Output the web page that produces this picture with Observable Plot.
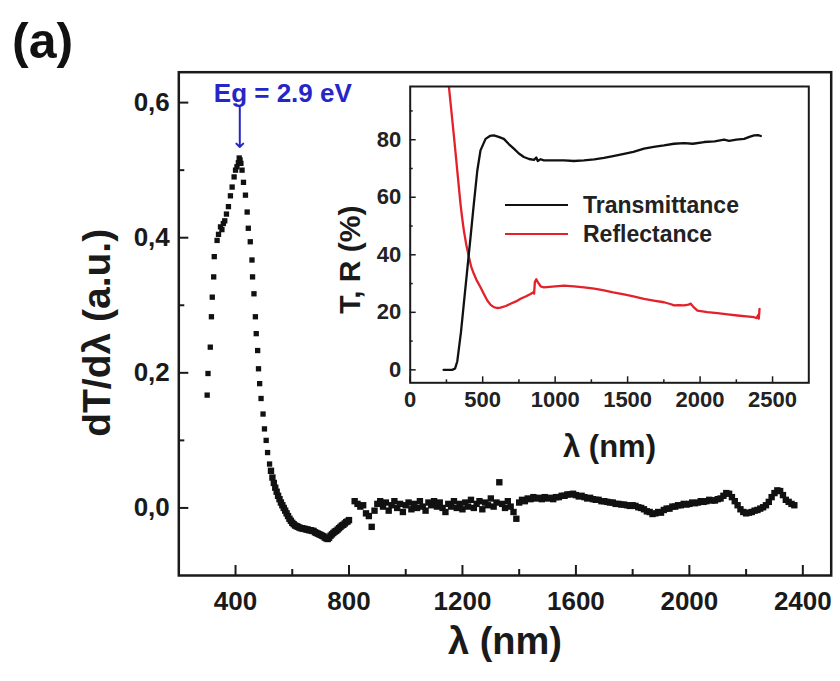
<!DOCTYPE html>
<html><head><meta charset="utf-8">
<script src="https://cdn.jsdelivr.net/npm/d3@7"></script>
<script src="https://cdn.jsdelivr.net/npm/@observablehq/plot@0.6"></script>
<style>
body{margin:0;background:#fff;}
#wrap{position:relative;width:840px;height:681px;overflow:hidden;background:#fff;font-family:"Liberation Sans",Arial,sans-serif;font-weight:bold;color:#111;}
#wrap svg{position:absolute;left:0;top:0;}
.lab{position:absolute;white-space:nowrap;}
</style></head><body><div id="wrap"></div>
<script>
// ---- main panel: dT/dλ scatter (nm, a.u.) ----
const edgeRise = [[300,0.167],[303,0.199],[311,0.238],[315,0.283],[318,0.312],[323,0.342],[325,0.372],[335,0.396],[340,0.405],[347,0.416],[352,0.412],[357,0.421],[362,0.425],[368,0.435],[375,0.446],[382,0.462],[388,0.475],[395,0.490],[400,0.500],[405,0.505],[410,0.511],[413,0.518],[416,0.515],[419,0.510]];
const edgeFall = [[423,0.500],[428,0.482],[435,0.463],[441,0.438],[445,0.414],[452,0.394],[458,0.367],[460,0.342],[465,0.317],[470,0.283],[473,0.258],[478,0.233],[481,0.206],[485,0.184],[490,0.162],[497,0.139],[502,0.117],[508,0.100],[513,0.082],[520,0.065]];
// 525 … 800 nm, every 5 nm
const dipValues = [0.055,0.045,0.037,0.030,0.024,0.018,0.013,0.008,0.004,0.000,
 -0.004,-0.008,-0.012,-0.016,-0.019,-0.022,-0.024,-0.026,-0.027,-0.028,
 -0.029,-0.030,-0.030,-0.031,-0.031,-0.032,-0.032,-0.033,-0.033,-0.034,
 -0.034,-0.036,-0.037,-0.038,-0.039,-0.040,-0.041,-0.042,-0.044,-0.045,
 -0.046,-0.044,-0.041,-0.039,-0.037,-0.035,-0.034,-0.032,-0.030,-0.028,
 -0.026,-0.025,-0.023,-0.021,-0.020,-0.018];
// 820 … 2370 nm, every 10 nm
const nirValues = [0.010,0.006,0.002,0.004,-0.008,-0.012,-0.028,-0.004,0.006,0.010,
 0.002,0.008,-0.004,0.004,0.010,0.000,0.006,-0.006,0.004,0.008,
 -0.002,0.006,0.000,0.010,0.002,-0.004,0.008,0.004,0.010,0.002,
 0.008,0.000,-0.006,0.006,0.002,0.010,0.000,0.006,-0.002,0.008,
 0.002,0.012,0.000,0.006,0.010,-0.002,0.008,0.004,0.014,0.002,
 0.008,0.038,0.006,0.000,0.010,0.002,-0.006,-0.016,
 0.008,0.012,0.010,0.014,0.013,0.016,0.014,0.015,0.013,0.016,
 0.014,0.015,0.013,0.016,0.016,0.018,0.018,0.020,0.020,0.021,
 0.019,0.017,0.018,0.016,0.014,0.015,0.013,0.012,0.012,0.010,
 0.010,0.009,0.008,0.008,0.006,0.006,0.005,0.005,0.004,0.003,
 0.004,0.003,0.001,0.000,-0.002,-0.005,-0.006,-0.009,-0.008,-0.006,
 -0.007,-0.003,-0.001,-0.001,0.002,0.002,0.004,0.004,0.006,0.005,
 0.006,0.008,0.007,0.008,0.010,0.009,0.010,0.012,0.011,0.011,
 0.013,0.014,0.018,0.022,0.021,0.016,0.010,0.004,-0.002,-0.006,
 -0.008,-0.007,-0.006,-0.004,-0.003,-0.001,0.001,0.004,0.009,0.016,
 0.022,0.026,0.025,0.019,0.012,0.009,0.006,0.004];
const gapNote = [{nm: 415, value: 0.515, text: "Eg = 2.9 eV"}];
const mainXMajor = [400,800,1200,1600,2000,2400];
const mainXMinor = [600,1000,1400,1800,2200];
const mainYMajor = [0,0.2,0.4,0.6];
const mainYMinor = [0.1,0.3,0.5];

// ---- inset: T and R (%) ----
const transmittance = [[230,0],[260,0],[290,0],[310,0.5],[325,3],[340,9],[350,13],[360,18],[370,23],[393,34.5],[416,46],[439,57.7],[463,69.3],[485,76.3],[520,80.3],[550,81.3],[577,81.5],[610,81],[646,80.3],[680,78.5],[715,76.9],[750,75.2],[784,74],[820,73.3],[854,73],[870,73.8],[880,72.6],[900,73.2],[922,72.8],[1000,72.8],[1061,72.8],[1130,72.6],[1199,72.8],[1270,73.2],[1337,73.7],[1400,74.3],[1475,75.1],[1540,75.8],[1613,76.9],[1680,77.5],[1751,78],[1820,78.6],[1889,78.8],[1950,78.6],[2028,79.2],[2100,79.4],[2166,80],[2200,79.6],[2250,80],[2304,80.3],[2340,81],[2373,81.5],[2400,81.6],[2419,81.3]];
const reflectance = [[255,105],[267,98.5],[280,92],[292,86],[305,79.5],[318,72.8],[330,66.5],[347,57.7],[358,53],[370,48.5],[387,43.5],[405,39.2],[420,36],[439,33.4],[460,31],[485,28.7],[510,26.2],[532,24.1],[555,22.6],[577,21.8],[600,21.5],[623,21.6],[660,22.2],[692,23],[730,23.8],[761,24.7],[800,25.6],[830,26.4],[850,27],[855,26.5],[860,30.5],[870,31.5],[880,30.5],[890,29.8],[900,29],[922,28.7],[1000,29],[1061,29.3],[1130,29],[1199,28.7],[1270,28.2],[1337,27.6],[1400,26.9],[1475,26.2],[1540,25.5],[1613,24.7],[1680,24.1],[1751,23.5],[1800,22.8],[1820,22.4],[1850,22.5],[1889,22.4],[1920,22.7],[1936,23],[1955,21.8],[1982,20.6],[2050,20.1],[2120,19.7],[2190,19.3],[2258,18.9],[2320,18.6],[2373,18.3],[2390,18],[2400,19],[2405,17.8],[2410,21.2]];
const insetXMajor = [0,500,1000,1500,2000,2500];
const insetXMinor = [250,750,1250,1750,2250];
const insetYMajor = [0,20,40,60,80];
const insetYMinor = [10,30,50,70,90];
const legendItems = [{name: "Transmittance", color: "#111"}, {name: "Reflectance", color: "#e4202a"}];

// ---- build ----
const W = 840, H = 681;
const INK = "#1a1a1a", BLUE = "#2626c8";
const font = '"Liberation Sans", Arial, sans-serif';
const wrap = document.getElementById("wrap");

const edgePts = [...edgeRise, ...edgeFall];
const densePts = [
  ...dipValues.map((v, i) => [525 + 5 * i, v]),
  ...nirValues.map((v, i) => [820 + 10 * i, v])
];
const M = {top: 71.7, right: 9.3, bottom: 106, left: 178.3};
const pw = W - M.left - M.right, ph = H - M.top - M.bottom;
const comma = d => d.toFixed(1).replace(".", ",");

const main = Plot.plot({
  width: W, height: H,
  marginTop: M.top, marginRight: M.right, marginBottom: M.bottom, marginLeft: M.left,
  x: {domain: [200, 2500], axis: null},
  y: {domain: [-0.1, 0.645], axis: null},
  style: {fontFamily: font, fontWeight: "bold", background: "transparent", color: INK, overflow: "visible"},
  marks: [
    Plot.dot(edgePts, {x: d => d[0], y: d => d[1], symbol: "square", r: 3.0, fill: "#111", stroke: "none"}),
    Plot.dot(densePts, {x: d => d[0], y: d => d[1], symbol: "square", r: 3.6, fill: "#111", stroke: "none"}),
    Plot.frame({stroke: INK, strokeWidth: 2.5}),
    Plot.ruleX(mainXMajor, {x: d => d, insetTop: ph - 10, stroke: INK, strokeWidth: 2}),
    Plot.ruleX(mainXMinor, {x: d => d, insetTop: ph - 6, stroke: INK, strokeWidth: 2}),
    Plot.ruleY(mainYMajor, {y: d => d, insetRight: pw - 10, stroke: INK, strokeWidth: 2}),
    Plot.ruleY(mainYMinor, {y: d => d, insetRight: pw - 6, stroke: INK, strokeWidth: 2}),
    Plot.text(mainXMajor, {x: d => d, frameAnchor: "bottom", lineAnchor: "middle", dy: 26, text: d => String(d), fontSize: 26, fill: INK}),
    Plot.text(mainYMajor, {y: d => d, frameAnchor: "left", dx: -9, textAnchor: "end", text: comma, fontSize: 26, fill: INK}),
    Plot.text(["λ (nm)"], {frameAnchor: "bottom", lineAnchor: "middle", textAnchor: "middle", dy: 66, text: d => d, fontSize: 38, fill: INK}),
    Plot.text(["dT/dλ (a.u.)"], {frameAnchor: "left", textAnchor: "middle", lineAnchor: "middle", dx: -81, dy: 9, rotate: -90, text: d => d, fontSize: 39, fill: INK}),
    Plot.vector(gapNote, {x: "nm", y: "value", rotate: 180, length: 40, anchor: "end", dy: -13, r: 1.5, stroke: BLUE, strokeWidth: 2}),
    Plot.text(gapNote, {x: "nm", y: "value", text: "text", dx: -26, dy: -66, textAnchor: "start", fill: BLUE, fontSize: 26})
  ]
});
wrap.appendChild(main);

const IM = {top: 86, right: 31.7, bottom: 298.7, left: 409.7};
const ipw = W - IM.left - IM.right, iph = H - IM.top - IM.bottom;
const inset = Plot.plot({
  width: W, height: H,
  marginTop: IM.top, marginRight: IM.right, marginBottom: IM.bottom, marginLeft: IM.left,
  x: {domain: [0, 2750], axis: null},
  y: {domain: [-4.5, 98.5], axis: null},
  style: {fontFamily: font, fontWeight: "bold", background: "transparent", color: INK, overflow: "visible"},
  marks: [
    Plot.frame({fill: "white", stroke: "none"}),
    Plot.line(reflectance, {x: d => d[0], y: d => d[1], stroke: legendItems[1].color, strokeWidth: 2.3, clip: true}),
    Plot.line(transmittance, {x: d => d[0], y: d => d[1], stroke: legendItems[0].color, strokeWidth: 2.3, clip: true}),
    Plot.frame({stroke: INK, strokeWidth: 2}),
    Plot.ruleX(insetXMajor, {x: d => d, insetTop: iph - 6, stroke: INK, strokeWidth: 1.5}),
    Plot.ruleX(insetXMinor, {x: d => d, insetTop: iph - 3, stroke: INK, strokeWidth: 1.5}),
    Plot.ruleY(insetYMajor, {y: d => d, insetRight: ipw - 6, stroke: INK, strokeWidth: 1.5}),
    Plot.ruleY(insetYMinor, {y: d => d, insetRight: ipw - 3, stroke: INK, strokeWidth: 1.5}),
    Plot.text(insetXMajor, {x: d => d, frameAnchor: "bottom", lineAnchor: "middle", dy: 17, text: d => String(d), fontSize: 22, fill: "#222"}),
    Plot.text(insetYMajor, {y: d => d, frameAnchor: "left", dx: -9, textAnchor: "end", text: d => String(d), fontSize: 22, fill: "#222"}),
    Plot.text(["λ (nm)"], {frameAnchor: "bottom", lineAnchor: "middle", textAnchor: "middle", dy: 64, text: d => d, fontSize: 31, fill: INK}),
    Plot.text(["T, R (%)"], {frameAnchor: "left", textAnchor: "middle", lineAnchor: "middle", dx: -60, dy: 25, rotate: -90, text: d => d, fontSize: 30, fill: INK})
  ]
});
wrap.appendChild(inset);

// legend (inside inset)
legendItems.forEach((item, i) => {
  const cy = 205 + i * 29;
  const sw = document.createElement("div");
  sw.style.cssText = `position:absolute;left:505px;top:${cy - 1.25}px;width:63px;height:2.5px;background:${item.color};`;
  wrap.appendChild(sw);
  const t = document.createElement("div");
  t.className = "lab";
  t.style.cssText = `left:583px;top:${cy - 13}px;height:26px;line-height:26px;font-size:23px;color:#222;`;
  t.textContent = item.name;
  wrap.appendChild(t);
});

// panel label
const pl = document.createElement("div");
pl.className = "lab";
pl.style.cssText = "left:12px;top:16px;font-size:50px;line-height:50px;color:#111;";
pl.textContent = "(a)";
wrap.appendChild(pl);
</script></body></html>
